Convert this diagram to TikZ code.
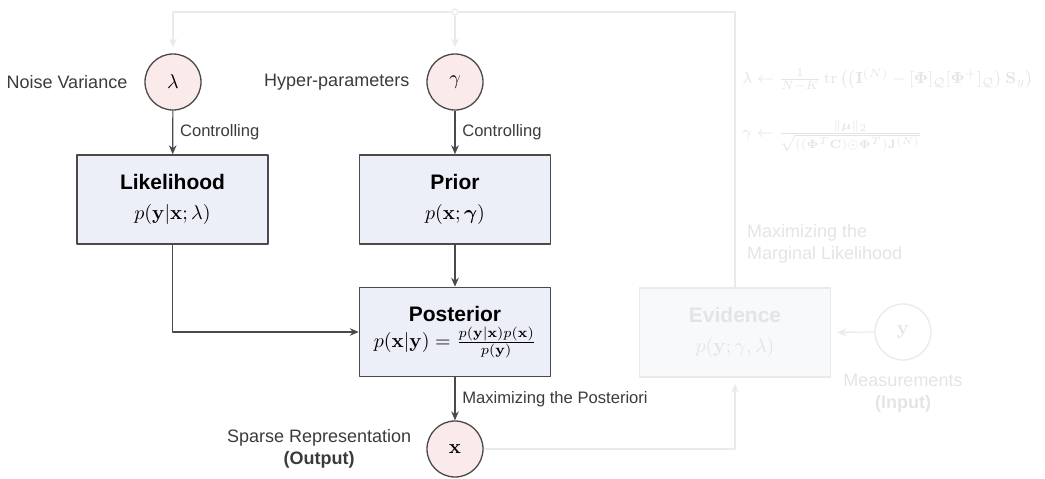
\documentclass[tikz,border=0pt]{standalone}
\usepackage{amsmath,bm}
\usepackage[no-math]{fontspec}
\setmainfont{Liberation Sans}
\usetikzlibrary{arrows.meta}
\definecolor{boxfill}{HTML}{ECEFF7}
\definecolor{varfill}{HTML}{FAEAEA}
\definecolor{ink}{HTML}{4A4A4A}
\definecolor{ghost}{HTML}{E4E4E4}
\definecolor{ghostline}{HTML}{EAEAEA}
\definecolor{ghostfill}{HTML}{F7F9FB}
\tikzset{
  var/.style={circle, draw=ink, line width=0.65pt, fill=varfill, minimum size=28pt, inner sep=0pt},
  block/.style={rectangle, draw=ink, line width=0.75pt, fill=boxfill, minimum width=95.5pt, minimum height=44.5pt, align=center, inner sep=2pt},
  ghostvar/.style={var, draw=ghostline, fill=white, text=ghost},
  ghostblock/.style={block, draw=ghostline, fill=ghostfill, text=ghost},
  link/.style={draw=ink, line width=0.6pt, ->},
  ghostlink/.style={draw=ghostline, line width=0.6pt},
  edgelbl/.style={font=\fontsize{8.3}{10}\selectfont, text=ink!80!black},
  sidelbl/.style={font=\fontsize{9}{11}\selectfont, text=ink!80!black},
}
\begin{document}
\begin{tikzpicture}[x=0.5pt, y=-0.5pt, line join=round, >={Stealth[length=4.5pt,width=3.8pt]}]
  \useasboundingbox (0,0) rectangle (1045,478);
  % variables
  \node[var] (lam) at (173,82) {$\lambda$};
  \node[var] (gam) at (455,82) {$\gamma$};
  \node[var] (xx) at (455,449) {$\mathbf{x}$};
  \node[sidelbl, anchor=east] at ([xshift=-5pt]lam.west) {Noise Variance};
  \node[sidelbl, anchor=east] at ([xshift=-5pt]gam.west) {Hyper-parameters};
  \node[sidelbl, anchor=east, align=center] at ([xshift=-4pt]xx.west) {Sparse Representation\\{\bfseries(Output)}};
  % blocks
  \node[block] (lik) at (172.5,199.5) {{\fontsize{10.5}{12}\selectfont\bfseries Likelihood}\\[3pt] $p(\mathbf{y}|\mathbf{x};\lambda)$};
  \node[block] (pri) at (455,199.5) {{\fontsize{10.5}{12}\selectfont\bfseries Prior}\\[3pt] $p(\mathbf{x};\bm{\gamma})$};
  \node[block] (post) at (455,332) {{\fontsize{10.5}{12}\selectfont\bfseries Posterior}\\[1pt] $p(\mathbf{x}|\mathbf{y})=\frac{p(\mathbf{y}|\mathbf{x})p(\mathbf{x})}{p(\mathbf{y})}$};
  % connectors
  \draw[link] (lam) -- node[edgelbl, right]{Controlling} (lik);
  \draw[link] (gam) -- node[edgelbl, right]{Controlling} (pri);
  \draw[link] (pri) -- (post);
  \draw[link] (lik.south) |- (post.west);
  \draw[link] (post) -- node[edgelbl, right]{Maximizing the Posteriori} (xx);

  % faded evidence loop
  \node[ghostblock] (ev) at (735,332.5) {{\fontsize{10.5}{12}\selectfont\bfseries Evidence}\\[3pt] $p(\mathbf{y};\gamma,\lambda)$};
  \node[ghostvar] (yy) at (903,332) {$\mathbf{y}$};
  \node[sidelbl, text=ghost, anchor=north, align=center] at ([yshift=-3pt]yy.south) {Measurements\\{\bfseries(Input)}};
  \node[circle, draw=ghostline, fill=white, line width=0.6pt, minimum size=3pt, inner sep=0pt] (jn) at (455,12) {};
  \draw[ghostlink, ->, shorten >=3pt] (yy.west) -- (ev.east);
  \draw[ghostlink, ->, shorten >=3pt] (xx.east) -| (ev.south);
  \draw[ghostlink, ->, shorten >=3pt] (ev.north) |- (jn.east) (jn.west) -| (lam.north);
  \draw[ghostlink, ->, shorten >=3pt] (jn.south) -- (gam.north);
  \node[sidelbl, text=ghost, anchor=west, align=left] at (740,244) {Maximizing the\\Marginal Likelihood};
  \node[text=ghost, anchor=west, inner sep=1pt, font=\fontsize{8.2}{10}\selectfont] at (740,80) {$\lambda\leftarrow\frac{1}{N-K}\operatorname{tr}\big(\big(\mathbf{I}^{(N)}-[\mathbf{\Phi}]_{\mathcal{Q}}[\mathbf{\Phi}^{+}]_{\mathcal{Q}}\big)\,\mathbf{S}_y\big)$};
  \node[text=ghost, anchor=west, inner sep=1pt, font=\fontsize{8.2}{10}\selectfont] at (740,136) {$\gamma\leftarrow\frac{\|\bm{\mu}\|_2}{\sqrt{((\mathbf{\Phi}^T\mathbf{C})\odot\mathbf{\Phi}^T)\mathbf{J}^{(N)}}}$};
\end{tikzpicture}
\end{document}
